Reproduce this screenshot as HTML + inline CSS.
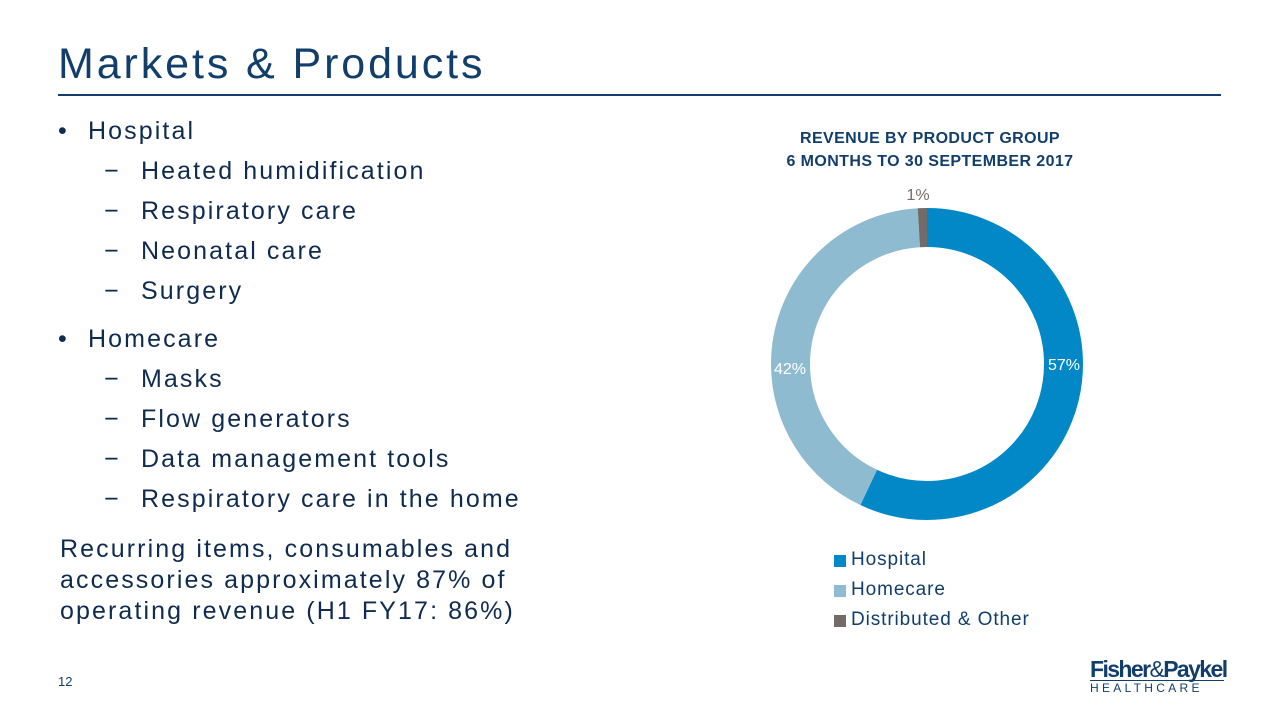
<!DOCTYPE html>
<html><head><meta charset="utf-8"><style>
body{margin:0;width:1280px;height:720px;background:#fff;position:relative;overflow:hidden;font-family:"Liberation Sans",sans-serif;color:#0f2b4f}
.a{position:absolute;white-space:nowrap}
.t{left:58px;top:40px;font-size:43px;color:#123e6b;letter-spacing:2.9px}
.rule{left:58px;top:94px;width:1163px;height:2px;background:#123e6b}
.b{font-size:25px;color:#0f2b4f;letter-spacing:2.1px}
.d{position:absolute;left:104px;font-size:25px;color:#0f2b4f}
.ch{font-size:16px;font-weight:bold;color:#123e6b;text-align:center;width:340px;left:760px;letter-spacing:0.4px}
.lg{font-size:19px;color:#123e6b;letter-spacing:0.9px}
.sq{position:absolute;width:12px;height:12px}
</style></head><body>
<div class="a t">Markets &amp; Products</div>
<div class="a rule"></div>
<div class="a b" style="left:58px;top:117px">•</div><div class="a b" style="left:88px;top:117px">Hospital</div>
<div class="d" style="top:157px">−</div><div class="a b" style="left:141px;top:157px">Heated humidification</div>
<div class="d" style="top:197px">−</div><div class="a b" style="left:141px;top:197px">Respiratory care</div>
<div class="d" style="top:237px">−</div><div class="a b" style="left:141px;top:237px">Neonatal care</div>
<div class="d" style="top:277px">−</div><div class="a b" style="left:141px;top:277px">Surgery</div>
<div class="a b" style="left:58px;top:325px">•</div><div class="a b" style="left:88px;top:325px">Homecare</div>
<div class="d" style="top:365px">−</div><div class="a b" style="left:141px;top:365px">Masks</div>
<div class="d" style="top:405px">−</div><div class="a b" style="left:141px;top:405px">Flow generators</div>
<div class="d" style="top:445px">−</div><div class="a b" style="left:141px;top:445px">Data management tools</div>
<div class="d" style="top:485px">−</div><div class="a b" style="left:141px;top:485px">Respiratory care in the home</div>
<div class="a b" style="left:60px;top:534px;line-height:31px">Recurring items, consumables and<br>accessories approximately 87% of<br>operating revenue (H1 FY17: 86%)</div>
<div class="a" style="left:58px;top:674px;font-size:13px;color:#123e6b">12</div>
<div class="a ch" style="top:130px">REVENUE BY PRODUCT GROUP</div>
<div class="a ch" style="top:153px">6 MONTHS TO 30 SEPTEMBER 2017</div>
<svg class="a" style="left:0;top:0" width="1280" height="720">
<g transform="translate(927,364) rotate(-90)" fill="none" stroke-width="39">
<circle r="136.5" stroke="#0288c7" stroke-dasharray="488.9 1000"/>
<circle r="136.5" stroke="#8fbbd0" stroke-dasharray="0 488.9 360.2 1000"/>
<circle r="136.5" stroke="#736b67" stroke-dasharray="0 849.1 8.6 1000"/>
</g>
<text x="918" y="200" font-size="16" fill="#736b67" text-anchor="middle" font-family="Liberation Sans">1%</text>
<text x="790" y="374" font-size="16" fill="#fff" text-anchor="middle" font-family="Liberation Sans">42%</text>
<text x="1064" y="370" font-size="16" fill="#fff" text-anchor="middle" font-family="Liberation Sans">57%</text>
</svg>
<div class="sq" style="left:834px;top:555px;background:#0288c7"></div>
<div class="a lg" style="left:851px;top:549px">Hospital</div>
<div class="sq" style="left:834px;top:585px;background:#8fbbd0"></div>
<div class="a lg" style="left:851px;top:579px">Homecare</div>
<div class="sq" style="left:834px;top:615px;background:#736b67"></div>
<div class="a lg" style="left:851px;top:609px">Distributed &amp; Other</div>
<div class="a" style="left:1090px;top:656px;font-size:23px;font-weight:bold;color:#123e6b;letter-spacing:-1.6px">Fisher<span style="font-weight:normal">&amp;</span>Paykel</div>
<div class="a" style="left:1090px;top:680px;width:134px;height:1px;background:#123e6b"></div>
<div class="a" style="left:1090px;top:681px;font-size:12px;color:#123e6b;letter-spacing:3.3px">HEALTHCARE</div>
</body></html>
